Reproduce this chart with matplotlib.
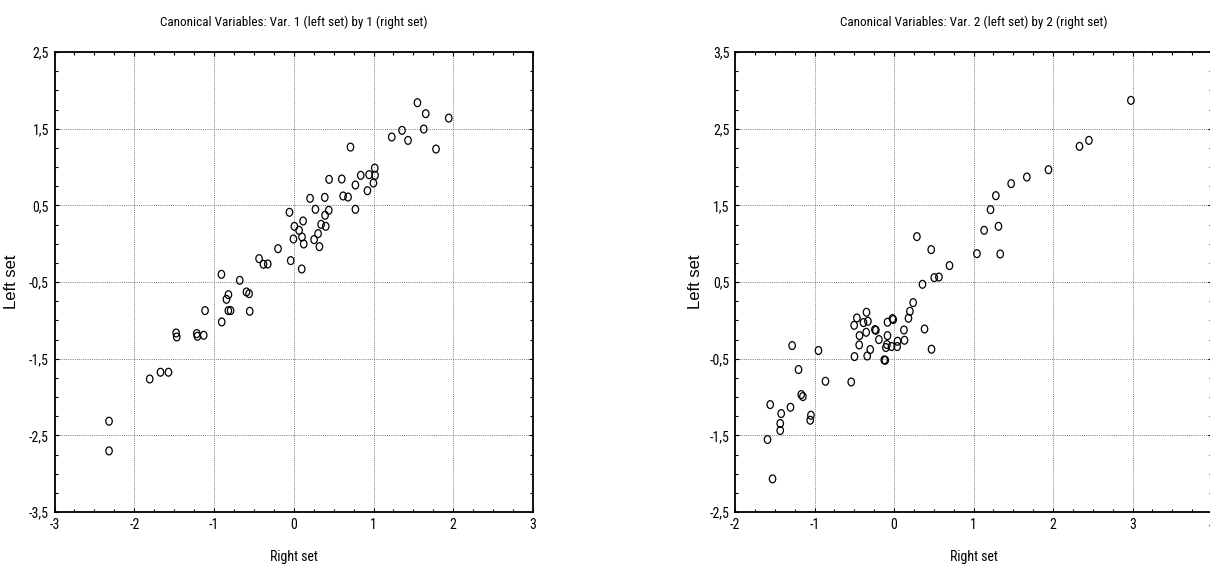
import numpy as np
import matplotlib
matplotlib.use("Agg")
import matplotlib.pyplot as plt
from matplotlib import font_manager as fm
from matplotlib.ticker import MultipleLocator, FixedLocator, FuncFormatter
from matplotlib.path import Path
from matplotlib.transforms import Affine2D

# ---------------- data ----------------
left_title = "Canonical Variables: Var. 1 (left set) by 1 (right set)"
right_title = "Canonical Variables: Var. 2 (left set) by 2 (right set)"
x_label = "Right set"
y_label = "Left set"

left_x = [1.551, 1.655, 1.944, 1.630, 1.358, 1.229, 1.433, 1.784, 0.711, 1.016,
          0.945, 1.020, 0.840, 0.602, 0.443, 0.999, 0.773, 0.924, 0.619, 0.681,
          0.205, 0.389, 0.773, 0.272, 0.439, -0.054, 0.393, 0.117, 0.008, 0.343,
          0.401, 0.067, 0.305, 0.104, -0.004, 0.255, 0.125, 0.322, -0.197, -0.038,
          0.100, -0.435, -0.380, -0.326, -0.907, -0.677, -0.593, -0.560, -0.819, -0.844,
          -1.112, -0.820, -0.792, -0.552, -0.903, -1.475, -1.467, -1.216, -1.208, -1.129,
          -1.806, -1.671, -1.571, -2.316, -2.316]
left_y = [1.839, 1.696, 1.638, 1.495, 1.478, 1.391, 1.347, 1.234, 1.260, 0.986,
          0.900, 0.891, 0.891, 0.843, 0.839, 0.791, 0.765, 0.691, 0.622, 0.608,
          0.591, 0.604, 0.448, 0.448, 0.435, 0.409, 0.370, 0.296, 0.226, 0.252,
          0.226, 0.174, 0.131, 0.087, 0.061, 0.053, -0.004, -0.039, -0.065, -0.221,
          -0.330, -0.195, -0.269, -0.265, -0.400, -0.478, -0.630, -0.652, -0.665, -0.726,
          -0.873, -0.873, -0.873, -0.882, -1.021, -1.165, -1.217, -1.173, -1.208, -1.195,
          -1.765, -1.677, -1.677, -2.316, -2.703]

right_x = [2.980, 2.333, 2.452, 1.943, 1.671, 1.474, 1.281, 1.214, 1.134, 1.314,
           1.043, 1.336, 0.288, 0.468, 0.698, 0.506, 0.565, 0.358, 0.241, 0.200,
           0.182, 0.384, 0.125, 0.132, 0.472, -0.019, -0.010, -0.082, -0.082, 0.044,
           0.040, -0.031, -0.089, -0.102, -0.190, -0.240, -0.228, -0.346, -0.328, -0.384,
           -0.350, -0.467, -0.501, -0.434, -0.438, -0.299, -0.337, -0.497, -0.123, -0.110,
           -0.538, -0.862, -0.950, -1.281, -1.201, -1.167, -1.146, -1.302, -1.557, -1.419,
           -1.431, -1.431, -1.045, -1.054, -1.591, -1.528]
right_y = [2.869, 2.269, 2.347, 1.965, 1.869, 1.783, 1.626, 1.444, 1.174, 1.226,
           0.870, 0.865, 1.092, 0.922, 0.714, 0.557, 0.565, 0.470, 0.231, 0.118,
           0.027, -0.113, -0.126, -0.260, -0.377, 0.023, 0.010, -0.025, -0.199, -0.273,
           -0.342, -0.342, -0.316, -0.355, -0.251, -0.121, -0.130, 0.105, -0.012, -0.029,
           -0.156, 0.031, -0.065, -0.199, -0.321, -0.381, -0.465, -0.473, -0.517, -0.521,
           -0.804, -0.795, -0.394, -0.329, -0.642, -0.968, -0.994, -1.134, -1.099, -1.216,
           -1.346, -1.437, -1.238, -1.303, -1.555, -2.068]

left_xlim = (-3, 3)
left_ylim = (-3.5, 2.5)
right_xlim = (-2, 4)
right_ylim = (-2.5, 3.5)


# ---------------- fonts ----------------
def pick(names):
    for n in names:
        try:
            fm.findfont(fm.FontProperties(family=n), fallback_to_default=False)
            return n
        except Exception:
            pass
    return "DejaVu Sans"


NARROW = pick(["Liberation Sans Narrow", "Roboto Condensed", "Liberation Sans"])
REG = pick(["Liberation Sans", "Arial", "DejaVu Sans"])

W, H = 1210, 565
fig = plt.figure(figsize=(W / 100, H / 100), dpi=100)
fig.patch.set_facecolor("white")


def axpos(x0, x1, y0, y1):
    return [x0 / W, 1 - y1 / H, (x1 - x0) / W, (y1 - y0) / H]


marker = Path.unit_circle().transformed(Affine2D().scale(0.82, 1.0))
comma = FuncFormatter(lambda v, p: ("%g" % v).replace(".", ","))


def style(ax, x, y, xlim, ylim, title, ylab_x):
    ax.scatter(x, y, s=32, marker=marker, facecolors="none",
               edgecolors="black", linewidths=0.9, zorder=3, clip_on=True)
    ax.set_xlim(*xlim)
    ax.set_ylim(*ylim)
    ax.xaxis.set_major_locator(MultipleLocator(1))
    ax.xaxis.set_minor_locator(MultipleLocator(0.25))
    ax.yaxis.set_major_locator(FixedLocator(np.arange(ylim[0], ylim[1] + 0.01, 1.0)))
    ax.yaxis.set_minor_locator(MultipleLocator(0.25))
    ax.xaxis.set_major_formatter(comma)
    ax.yaxis.set_major_formatter(comma)
    ax.tick_params(which="both", direction="in", top=True, right=True,
                   width=0.8, colors="black")
    ax.tick_params(which="major", length=3, pad=4, labelsize=10)
    ax.tick_params(which="minor", length=2)
    for lab in ax.get_xticklabels() + ax.get_yticklabels():
        lab.set_fontfamily(NARROW)
    ax.grid(True, which="major", linestyle=(0, (1, 1.2)), color="#7a7a7a",
            linewidth=0.7, zorder=1)
    for s in ax.spines.values():
        s.set_linewidth(1.3)
        s.set_color("black")
    ax.set_title(title, fontsize=9.5, fontfamily=NARROW, pad=19)
    ax.set_xlabel(x_label, fontsize=10, fontfamily=NARROW, labelpad=13)
    ax.set_ylabel(y_label, fontsize=12, fontfamily=REG)
    ax.yaxis.set_label_coords(ylab_x, 0.5)


ax1 = fig.add_axes(axpos(54.5, 533, 52, 512))
style(ax1, left_x, left_y, left_xlim, left_ylim, left_title, -0.074)

ax2 = fig.add_axes(axpos(735, 1212, 52, 512))
style(ax2, right_x, right_y, right_xlim, right_ylim, right_title, -0.067)

fig.savefig("out.png", dpi=100)
